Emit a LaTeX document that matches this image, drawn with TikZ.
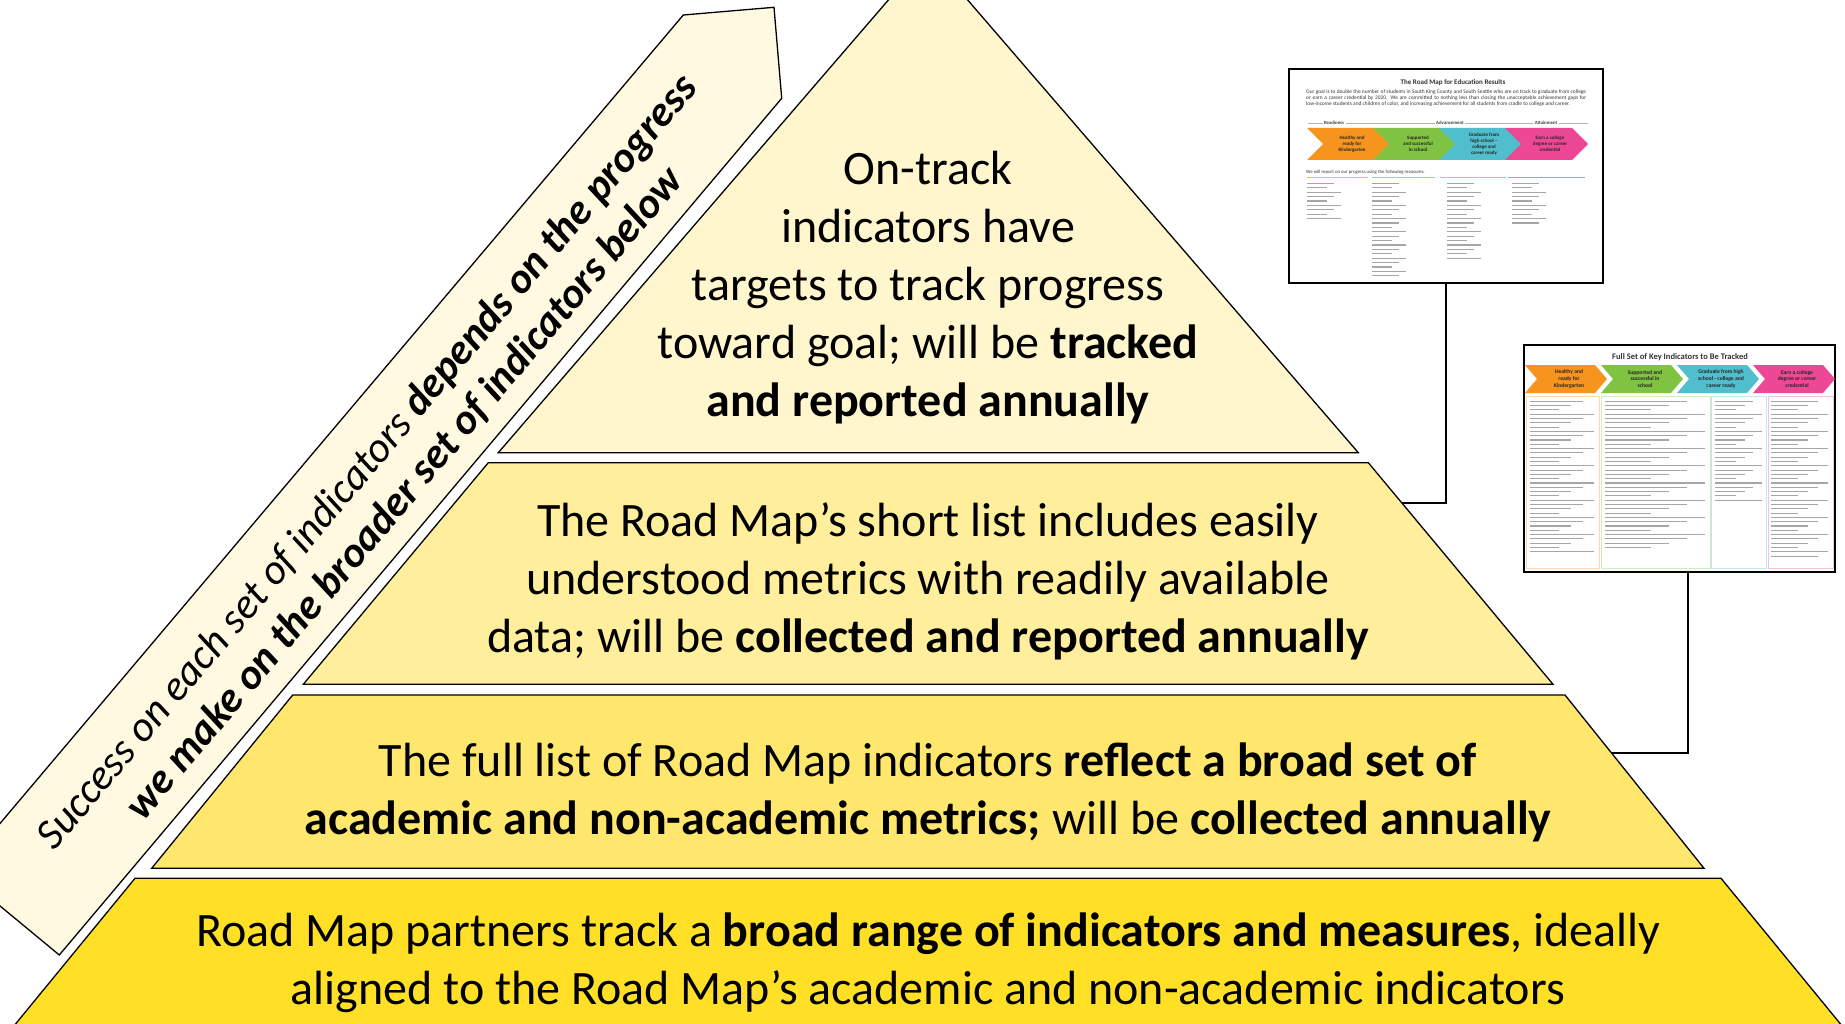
\documentclass[tikz,border=0pt]{standalone}
\usepackage{fontspec}
\setmainfont{Carlito}
\usepackage{tikz}
\usetikzlibrary{positioning}

\definecolor{bannerfill}{RGB}{255,249,226}
\definecolor{tierA}{RGB}{255,246,206}
\definecolor{tierB}{RGB}{255,238,155}
\definecolor{tierC}{RGB}{255,231,110}
\definecolor{tierD}{RGB}{255,224,38}
\definecolor{chevOrange}{RGB}{247,148,30}
\definecolor{chevGreen}{RGB}{128,195,66}
\definecolor{chevTeal}{RGB}{80,190,205}
\definecolor{chevPink}{RGB}{236,72,150}

\tikzset{
  tier/.style={draw=black, line width=1.3pt},
  tiertext/.style={align=center, inner sep=0pt, font=\fontsize{48}{58}\selectfont},
  thumb/.style={draw=black, line width=2pt, fill=white, inner sep=0pt},
  link/.style={draw=black, line width=2pt},
  textline/.style={draw=gray!70, line width=1.3pt},
  chevlabel/.style={align=center, inner sep=0pt, text=black!85},
}

\begin{document}
\begin{tikzpicture}[x=1pt,y=-1pt]
\useasboundingbox (0,0) rectangle (1845,1024);
\clip (0,0) rectangle (1845,1024);

    % Banner along the left side
    \draw[tier, fill=bannerfill]
        (683.3,15) -- (774,7.3) -- (781.7,98.3) -- (59.3,955) -- (-41,872) -- cycle;
    \node[rotate=49.8,
        align=center,
        inner sep=0pt,
        font=\fontsize{42.5}{49}\selectfont\itshape
    ] (banner) at (386,478)
    {Success on each set of indicators \textbf{depends on the progress}\\
     \textbf{we make on the broader set of indicators below}};

    % Pyramid tiers
    \coordinate (t1top) at (928,-46);
    \coordinate (t1bl) at (498.3,452.7);
    \coordinate (t1br) at (1358.3,452.7);
    \draw[tier, fill=tierA] (t1top) -- (t1br) -- (t1bl) -- cycle;

    \coordinate (t2tl) at (488.3,462.7);
    \coordinate (t2tr) at (1368.3,462.7);
    \coordinate (t2br) at (1553,684.3);
    \coordinate (t2bl) at (303.3,684.3);
    \draw[tier, fill=tierB] (t2tl) -- (t2tr) -- (t2br) -- (t2bl) -- cycle;

    \coordinate (t3tl) at (292.7,695);
    \coordinate (t3tr) at (1565,695);
    \coordinate (t3br) at (1704,868.3);
    \coordinate (t3bl) at (151.7,868.3);
    \draw[tier, fill=tierC] (t3tl) -- (t3tr) -- (t3br) -- (t3bl) -- cycle;

    \coordinate (t4tl) at (135,878.3);
    \coordinate (t4tr) at (1721,878.3);
    \coordinate (t4br) at (1845.4,1030);
    \coordinate (t4bl) at (10.6,1030);
    \draw[tier, fill=tierD] (t4tl) -- (t4tr) -- (t4br) -- (t4bl) -- cycle;

    % Tier texts
    \node[tiertext] (onTrack) at (928,288)
    {On-track\\indicators have\\targets to track progress\\
     toward goal; will be \textbf{tracked}\\\textbf{and reported annually}};

    \node[tiertext] (shortList) at (928,581)
    {The Road Map’s short list includes easily\\
     understood metrics with readily available\\
     data; will be \textbf{collected and reported annually}};

    \node[tiertext] (fullList) at (928,792)
    {The full list of Road Map indicators \textbf{reflect a broad set of}\\
     \textbf{academic and non-academic metrics;} will be \textbf{collected annually}};

    \node[tiertext] (partners) at (928,963)
    {Road Map partners track a \textbf{broad range of indicators and measures}, ideally\\
     aligned to the Road Map’s academic and non-academic indicators};

    % Thumbnail: short list
    \node[thumb, minimum width=314, minimum height=214] (roadMap) at (1446,176) {};
    \node[font=\fontsize{7}{8}\selectfont\bfseries, inner sep=0pt, text=black!80]
        (roadMapTitle) at (1453,83) {The Road Map for Education Results};
    \node[anchor=north west, text width=280, align=justify, inner sep=0pt,
        font=\fontsize{5.4}{5.8}\selectfont, text=black!80]
        (roadMapGoal) at (1306,90)
        {Our goal is to double the number of students in South King County and South Seattle who are on track to graduate from college or earn a career credential by 2020.  We are committed to nothing less than closing the unacceptable achievement gaps for low-income students and children of color, and increasing achievement for all students from cradle to college and career.};
    \draw[draw=gray!60, line width=0.6pt] (1308,123.3) -- (1588,123.3);
    \foreach \x/\t [count=\i] in {1334/Readiness, 1450/Advancement, 1546/Attainment}{
        \node[fill=white, inner sep=1.5pt, font=\fontsize{4.8}{5.5}\selectfont\bfseries,
            text=black!75] (stage\i) at (\x,123.3) {\t};
    }
    \foreach \x/\c/\t [count=\i] in {
        1307/chevOrange/{Healthy and\\ready for\\Kindergarten},
        1373/chevGreen/{Supported\\and successful\\in school},
        1439/chevTeal/{Graduate from\\high school --\\college and\\career ready},
        1505/chevPink/{Earn a college\\degree or career\\credential}}{
        \fill[\c] (\x,128) -- ++(67,0) -- ++(16,16) -- ++(-16,16) -- ++(-67,0) -- ++(16,-16) -- cycle;
        \node[chevlabel, font=\fontsize{5}{6}\selectfont\bfseries] (rmChev\i) at (\x+45,144) {\t};
    }
    \node[anchor=west, inner sep=0pt, font=\fontsize{4.8}{5.5}\selectfont, text=black!80]
        (roadMapMeasures) at (1306,172.7)
        {We will report on our progress using the following measures:};
    \foreach \a/\b/\c in {1307/1368/chevOrange, 1372/1435/chevGreen,
                          1440/1506/chevTeal, 1508/1585/chevPink}{
        \draw[\c!70, line width=1.4pt] (\a,177.5) -- (\b,177.5);
    }
    \foreach \x/\n in {1307/9, 1372/22, 1447/18, 1512/10}{
        \foreach \k [evaluate=\k as \w using {34-7*mod(\k,3)}] in {1,...,\n}{
            \draw[textline] (\x,179+4.4*\k) -- ++(\w,0);
        }
    }

    % Thumbnail: full set
    \node[thumb, minimum width=311, minimum height=227] (keySet) at (1679.5,458.5) {};
    \node[font=\fontsize{8.5}{9}\selectfont\bfseries, inner sep=0pt, text=black!80]
        (keySetTitle) at (1680,356.7) {Full Set of Key Indicators to Be Tracked};
    \foreach \x/\c/\t [count=\i] in {
        1525/chevOrange/{Healthy and\\ready for\\Kindergarten},
        1601/chevGreen/{Supported and\\successful in\\school},
        1677/chevTeal/{Graduate from high\\school - college and\\career ready},
        1753/chevPink/{Earn a college\\degree or career\\credential}}{
        \fill[\c] (\x,365) -- ++(70,0) -- ++(12,14) -- ++(-12,14) -- ++(-70,0) -- ++(12,-14) -- cycle;
        \node[chevlabel, font=\fontsize{5.6}{6.6}\selectfont\bfseries] (ksChev\i) at (\x+44,379) {\t};
    }
    \foreach \a/\b/\c/\n [count=\i] in {1526.7/1599.3/chevOrange/36, 1601.7/1710/chevGreen/35,
                                       1711.7/1766.7/chevTeal/24, 1768.3/1833.3/chevPink/37}{
        \draw[\c!35, line width=0.8pt] (\a,396.7) rectangle (\b,568.3);
        \foreach \k [evaluate=\k as \w using {(\b-\a-8)*(1-0.18*mod(\k,4))}] in {1,...,\n}{
            \draw[textline, line width=1.1pt] (\a+3,397+4.3*\k) -- ++(\w,0);
        }
    }

    % Links from thumbnails to tiers
    \coordinate (shortEdge) at (1402,503.3);
    \coordinate (fullEdge) at (1611,752.5);
    \draw[link] (roadMap.south) |- (shortEdge);
    \draw[link] ([xshift=8.5pt]keySet.south) |- (fullEdge);

\end{tikzpicture}
\end{document}
